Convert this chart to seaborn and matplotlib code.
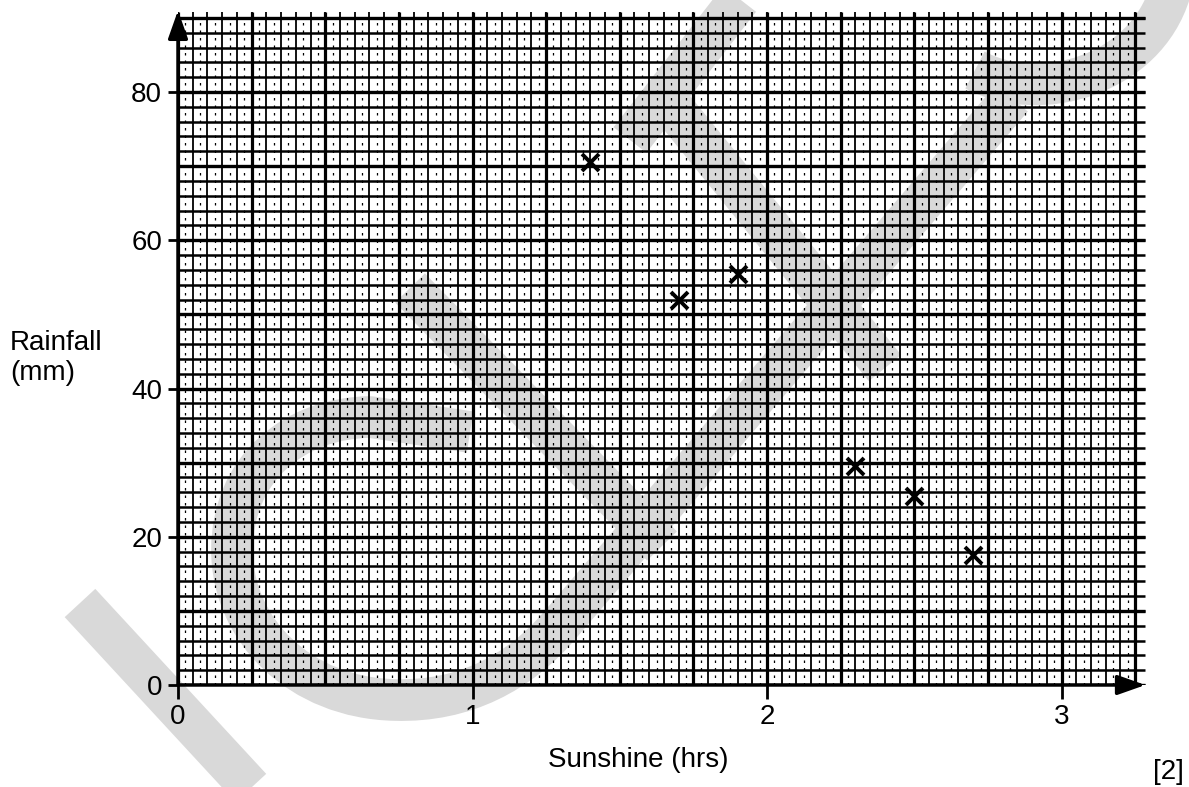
import numpy as np
import pandas as pd
import matplotlib
matplotlib.use("Agg")
import matplotlib.pyplot as plt
from matplotlib.path import Path
from matplotlib.patches import PathPatch
import seaborn as sns

# ----------------------------
# Data
# ----------------------------

sunshine = [1.4, 1.7, 1.9, 2.3, 2.5, 2.7]
rainfall = [70.5, 52, 55.5, 29.5, 25.5, 17.5]

x_ticks = [0, 1, 2, 3]
y_ticks = [0, 20, 40, 60, 80]

df = pd.DataFrame({"Sunshine": sunshine, "Rainfall": rainfall})

# ----------------------------
# Figure setup
# ----------------------------

sns.set_theme(style="white")
plt.rcParams["font.family"] = ["Liberation Sans", "DejaVu Sans"]
plt.rcParams["text.color"] = "black"
plt.rcParams["xtick.color"] = "black"
plt.rcParams["ytick.color"] = "black"

W, H = 1189, 787
fig = plt.figure(figsize=(W / 100, H / 100), dpi=100, facecolor="white")

# axes placed so that 0 sits at pixel (178, 685)
ax = fig.add_axes([178 / W, 1 - 685 / H, 3.3 * 294.5 / W, 92 * 7.4125 / H])
ax.set_facecolor("none")
ax.set_xlim(0, 3.3)
ax.set_ylim(0, 92)

# ----------------------------
# Grey watermark behind the graph paper
# ----------------------------

def px(x, y):
    return (x / W, 1 - y / H)

M, L, C = Path.MOVETO, Path.LINETO, Path.CURVE4
strokes = [
    ([(1170, -8), (1145, 75), (1040, 105), (975, 70)], [M, C, C, C]),
    ([(1012, 98), (560, 625),
      (520, 672), (465, 702), (395, 700),
      (300, 698), (232, 630), (232, 550),
      (232, 468), (295, 418), (370, 417),
      (470, 432)],
     [M, L, C, C, C, C, C, C, C, C, C, L]),
    ([(80, 603), (262, 800)], [M, L]),
    ([(410, 288), (662, 546)], [M, L]),
    ([(745, -8), (630, 140)], [M, L]),
    ([(660, 92), (885, 368)], [M, L]),
]
for pts, codes in strokes:
    path = Path([px(*p) for p in pts], codes)
    fig.add_artist(PathPatch(path, facecolor="none", edgecolor="#d9d9d9",
                             lw=30, capstyle="butt", joinstyle="round",
                             transform=fig.transFigure, zorder=-1))

# ----------------------------
# Graph paper grid
# ----------------------------

fine_x = np.arange(0, 3.2501, 0.05)
half_x = np.arange(0.025, 3.25, 0.05)
fine_y = np.arange(0, 90.01, 2)

ax.vlines(half_x, 0, 90, colors="black", lw=0.9, linestyles=(0, (2, 4)), zorder=1)
ax.vlines(fine_x, 0, 90.8, colors="black", lw=1.3, zorder=1)
ax.hlines(fine_y, 0, 3.283, colors="black", lw=1.8, zorder=1)
ax.vlines(fine_x[::5], 0, 90.8, colors="black", lw=2.3, zorder=1)
ax.hlines(fine_y[::5], 0, 3.283, colors="black", lw=2.4, zorder=1)

# axis lines with arrow heads
arrow = dict(arrowstyle="-|>,head_length=0.85,head_width=0.3", lw=2.5,
             color="black", mutation_scale=20, shrinkA=0, shrinkB=0)
ax.annotate("", xy=(0, 91), xytext=(0, 0), arrowprops=arrow, annotation_clip=False, zorder=3)
ax.annotate("", xy=(3.285, 0), xytext=(0, 0), arrowprops=arrow, annotation_clip=False, zorder=3)

# ----------------------------
# Points
# ----------------------------

sns.scatterplot(data=df, x="Sunshine", y="Rainfall", marker="x", color="black",
                s=150, linewidth=2.8, ax=ax, zorder=4, legend=False)

# ----------------------------
# Ticks and labels
# ----------------------------

for s in ax.spines.values():
    s.set_visible(False)

ax.set_xticks(x_ticks)
ax.set_yticks(y_ticks)
ax.tick_params(axis="x", bottom=True, direction="out", length=10, width=2,
               pad=3.5, labelsize=20, color="black", labelcolor="black")
ax.tick_params(axis="y", left=True, direction="out", length=7, width=2,
               pad=4.5, labelsize=20, color="black", labelcolor="black")
ax.set_xlabel("")
ax.set_ylabel("")

fig.text(10 / W, 1 - 350 / H, "Rainfall", fontsize=20, ha="left", va="baseline", color="black")
fig.text(10 / W, 1 - 380 / H, "(mm)", fontsize=20, ha="left", va="baseline", color="black")
fig.text(638 / W, 1 - 760 / H, "Sunshine (hrs)", fontsize=20, ha="center", va="center", color="black")
fig.text(1184 / W, 1 - 772 / H, "[2]", fontsize=20, ha="right", va="center", color="black")

plt.savefig("out.png", dpi=100, facecolor="white")
